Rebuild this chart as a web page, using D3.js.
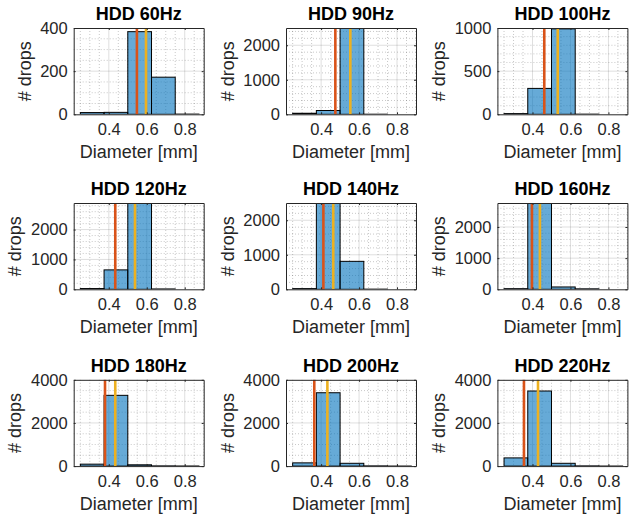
<!DOCTYPE html>
<html>
<head>
<meta charset="utf-8">
<script src="https://cdn.jsdelivr.net/npm/d3@7"></script>
<style>
  body { margin: 0; background: #fff; }
  text { font-family: "Liberation Sans", Arial, Helvetica, sans-serif; }
</style>
</head>
<body>
<svg id="chart"></svg>
<script>
// panel titles, row by row
const titles = ['HDD 60Hz', 'HDD 90Hz', 'HDD 100Hz',
                'HDD 120Hz', 'HDD 140Hz', 'HDD 160Hz',
                'HDD 180Hz', 'HDD 200Hz', 'HDD 220Hz'];

// histogram bin edges [mm]
const binEdges = [0.25, 0.375, 0.5, 0.625, 0.75, 0.875];

// drop counts per bin, one row per panel
const counts = [
    [8, 9, 383, 172, 1],
    [30, 110, 2500, 3, 0],
    [8, 300, 990, 2, 0],
    [25, 650, 2890, 12, 0],
    [20, 2500, 810, 5, 0],
    [20, 2770, 75, 15, 0],
    [90, 3280, 60, 10, 5],
    [150, 3400, 130, 10, 3],
    [380, 3480, 130, 10, 3]
];

// vertical marker lines [mm]
const redLines    = [0.548, 0.475, 0.462, 0.434, 0.412, 0.397, 0.380, 0.364, 0.355];
const yellowLines = [0.596, 0.554, 0.533, 0.538, 0.464, 0.439, 0.434, 0.433, 0.429];

// axis limits and ticks
const xLimits = [0.215, 0.9];
const xTicks = [0.4, 0.6, 0.8];
const xMinorStep = 0.05;
const yMax = [400, 2500, 1000, 2890, 2500, 2770, 4000, 4000, 4000];
const yTicks = [
    [0, 200, 400], [0, 1000, 2000], [0, 500, 1000],
    [0, 1000, 2000], [0, 1000, 2000], [0, 1000, 2000],
    [0, 2000, 4000], [0, 2000, 4000], [0, 2000, 4000]
];
const yMinorStep = [50, 200, 100, 200, 200, 200, 500, 500, 500];

const colLeft = [73.7, 286, 497.4];
const rowTop = [28, 203, 379.8];
const plotW = 130, plotH = 86.3;

const svg = d3.select('#chart')
    .attr('width', 632)
    .attr('height', 517);

const axisColor = '#262626';

function steps(lo, hi, step) {
    let out = [];
    for (let k = Math.ceil(lo / step - 1e-9); k * step <= hi + 1e-9; k++) out.push(+(k * step).toFixed(6));
    return out;
}

titles.forEach((title, i) => {
    const left = colLeft[i % 3];
    const top = rowTop[Math.floor(i / 3)];

    const x = d3.scaleLinear().domain(xLimits).range([0, plotW]);
    const y = d3.scaleLinear().domain([0, yMax[i]]).range([plotH, 0]);

    const g = svg.append('g').attr('transform', `translate(${left},${top})`);

    g.append('clipPath').attr('id', 'clip' + i)
        .append('rect').attr('width', plotW).attr('height', plotH);

    // minor grid (dotted)
    const isMajorX = v => xTicks.some(t => Math.abs(t - v) < 1e-6);
    const isMajorY = v => yTicks[i].some(t => Math.abs(t - v) < 1e-6);
    const grid = g.append('g').attr('class', 'grid');
    grid.selectAll('.xminor')
        .data(steps(xLimits[0], xLimits[1], xMinorStep).filter(v => !isMajorX(v)))
        .join('line')
        .attr('x1', d => x(d)).attr('x2', d => x(d))
        .attr('y1', 0).attr('y2', plotH)
        .attr('stroke', axisColor).attr('stroke-opacity', 0.25)
        .attr('stroke-dasharray', '1,2');
    grid.selectAll('.yminor')
        .data(steps(0, yMax[i], yMinorStep[i]).filter(v => !isMajorY(v)))
        .join('line')
        .attr('y1', d => y(d)).attr('y2', d => y(d))
        .attr('x1', 0).attr('x2', plotW)
        .attr('stroke', axisColor).attr('stroke-opacity', 0.25)
        .attr('stroke-dasharray', '1,2');

    // major grid
    grid.selectAll('.xmajor')
        .data(xTicks)
        .join('line')
        .attr('x1', d => x(d)).attr('x2', d => x(d))
        .attr('y1', 0).attr('y2', plotH)
        .attr('stroke', axisColor).attr('stroke-opacity', 0.15);
    grid.selectAll('.ymajor')
        .data(yTicks[i].filter(v => v > 0 && v < yMax[i]))
        .join('line')
        .attr('y1', d => y(d)).attr('y2', d => y(d))
        .attr('x1', 0).attr('x2', plotW)
        .attr('stroke', axisColor).attr('stroke-opacity', 0.15);

    // histogram bars
    const bins = counts[i].map((c, k) => ({ x0: binEdges[k], x1: binEdges[k + 1], count: c }));
    g.append('g')
        .attr('clip-path', `url(#clip${i})`)
        .selectAll('.bar')
        .data(bins)
        .join('rect')
        .attr('class', 'bar')
        .attr('x', d => x(d.x0))
        .attr('width', d => x(d.x1) - x(d.x0))
        .attr('y', d => y(d.count))
        .attr('height', d => plotH - y(d.count))
        .attr('fill', '#0072BD')
        .attr('fill-opacity', 0.6)
        .attr('stroke', '#000')
        .attr('stroke-width', 1);

    // marker lines
    [[redLines[i], '#D95319'], [yellowLines[i], '#EDB120']].forEach(([v, c]) => {
        g.append('line')
            .attr('x1', x(v)).attr('x2', x(v))
            .attr('y1', 0).attr('y2', plotH)
            .attr('stroke', c)
            .attr('stroke-width', 2.6);
    });

    // axes box with inward ticks
    const xAxisB = d3.axisBottom(x).tickValues(xTicks).tickSizeInner(-2).tickSizeOuter(0).tickPadding(9).tickFormat(d3.format('.1f'));
    const xAxisT = d3.axisTop(x).tickValues(xTicks).tickSizeInner(-2).tickSizeOuter(0).tickFormat('');
    const yAxisL = d3.axisLeft(y).tickValues(yTicks[i]).tickSizeInner(-2).tickSizeOuter(0).tickPadding(6).tickFormat(d3.format('d'));
    const yAxisR = d3.axisRight(y).tickValues(yTicks[i]).tickSizeInner(-2).tickSizeOuter(0).tickFormat('');

    g.append('g').attr('transform', `translate(0,${plotH})`).call(xAxisB);
    g.append('g').call(xAxisT);
    const yl = g.append('g').call(yAxisL);
    g.append('g').attr('transform', `translate(${plotW},0)`).call(yAxisR);

    g.selectAll('.domain').attr('stroke', axisColor);
    g.selectAll('.tick line').attr('stroke', axisColor);
    g.selectAll('.tick text')
        .attr('fill', axisColor)
        .style('font-size', '16.5px')
        .style('font-family', '"Liberation Sans", Arial, sans-serif');

    // title
    g.append('text')
        .attr('x', plotW / 2)
        .attr('y', -8)
        .attr('text-anchor', 'middle')
        .attr('font-size', '18px')
        .attr('font-weight', 'bold')
        .attr('fill', '#000')
        .text(title);

    // x label
    g.append('text')
        .attr('x', plotW / 2)
        .attr('y', plotH + 44)
        .attr('text-anchor', 'middle')
        .attr('font-size', '18px')
        .attr('fill', axisColor)
        .text('Diameter [mm]');

    // y label, placed left of the widest tick label
    let maxW = 0;
    yl.selectAll('.tick text').each(function() { maxW = Math.max(maxW, this.getComputedTextLength()); });
    const lx = -6 - maxW - 9.5;
    g.append('text')
        .attr('transform', `translate(${lx},${plotH / 2}) rotate(-90)`)
        .attr('text-anchor', 'middle')
        .attr('font-size', '18px')
        .attr('fill', axisColor)
        .text('# drops');
});
</script>
</body>
</html>
